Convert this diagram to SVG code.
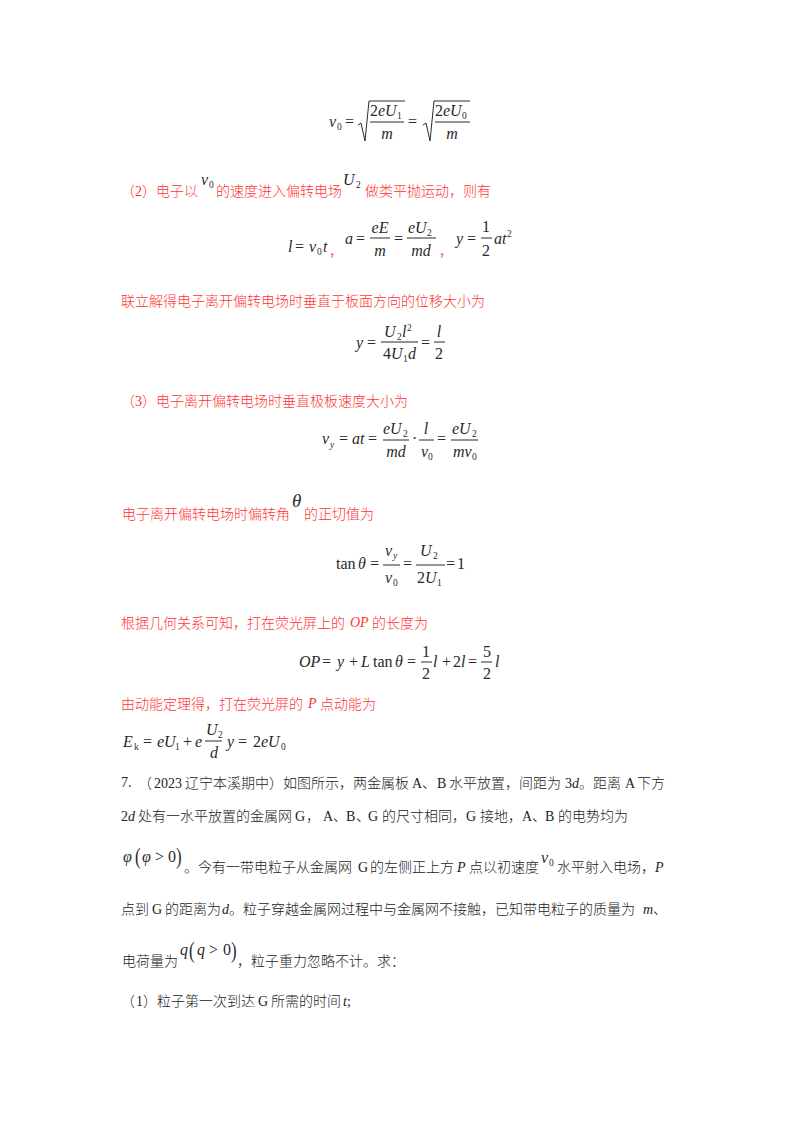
<svg xmlns="http://www.w3.org/2000/svg" width="800" height="1132" viewBox="0 0 800 1132">
<style>
text{white-space:pre}
.r{font:300 14px "Noto Sans CJK SC",sans-serif;fill:#f33}
.k{font:300 14px "Noto Sans CJK SC",sans-serif;fill:#222}
.ri{font:italic 14px "Liberation Serif",serif;fill:#f33}
.rn{font:14px "Liberation Serif",serif;fill:#f33}
.ki{font:italic 14px "Liberation Serif",serif;fill:#222}
.kn{font:14px "Liberation Serif",serif;fill:#222}
.i{font:italic 16px "Liberation Serif",serif;fill:#2a2a2a}
.n{font:16px "Liberation Serif",serif;fill:#2a2a2a}
.s{font:9.5px "Liberation Serif",serif;fill:#2a2a2a}
.si{font:italic 9.5px "Liberation Serif",serif;fill:#2a2a2a}
.p{font:24px "Liberation Serif",serif;fill:#2a2a2a}
.l{stroke:#2a2a2a;stroke-width:1;fill:none}
.c{text-anchor:middle}
</style>
<rect width="800" height="1132" fill="#fff"/>
<g id="eq1">
<text x="329" y="127" class="i">v</text><text x="337" y="130" class="s">0</text><text x="345" y="127" class="n">=</text>
<path class="l" d="M358 125l3-2 4 18 4-40h36"/><path class="l" d="M370 122h34"/>
<text x="370" y="116" class="n">2<tspan class="i">eU</tspan></text><text x="397" y="119" class="s">1</text><text x="387" y="139" class="i c">m</text>
<text x="408" y="127" class="n">=</text>
<path class="l" d="M423 125l3-2 4 18 4-40h36"/><path class="l" d="M435 122h35"/>
<text x="435" y="116" class="n">2<tspan class="i">eU</tspan></text><text x="462" y="119" class="s">0</text><text x="452" y="139" class="i c">m</text>
</g>
<g id="line2">
<text y="196" class="r"><tspan x="121">（</tspan><tspan x="135" class="rn">2</tspan><tspan x="142">）电子以</tspan></text>
<text x="201" y="185" class="i">v</text><text x="209" y="188" class="s">0</text>
<text x="216" y="196" class="r">的速度进入偏转电场</text>
<text x="343" y="185" class="i">U</text><text x="356" y="188" class="s">2</text>
<text x="365" y="196" class="r">做类平抛运动，则有</text>
</g>
<g id="eq2">
<text x="288" y="252" class="i">l</text><text x="295" y="252" class="n">=</text><text x="309" y="252" class="i">v</text><text x="317" y="255" class="s">0</text><text x="323" y="252" class="i">t</text>
<text x="329" y="256" class="r">，</text>
<text x="345" y="244" class="i">a</text><text x="356" y="244" class="n">=</text>
<path class="l" d="M370 238h20M407 238h29M481 238h11"/>
<text x="380" y="233" class="i c">eE</text><text x="380" y="256" class="i c">m</text>
<text x="394" y="244" class="n">=</text>
<text x="408" y="233" class="i">eU</text><text x="427" y="236" class="s">2</text><text x="421" y="256" class="i c">md</text>
<text x="439" y="256" class="r">，</text>
<text x="456" y="244" class="i">y</text><text x="467" y="244" class="n">=</text>
<text x="486" y="232" class="n c">1</text><text x="486" y="256" class="n c">2</text>
<text x="494" y="244" class="i">at</text><text x="507" y="237" class="s">2</text>
</g>
<text id="t3" x="121" y="306" class="r">联立解得电子离开偏转电场时垂直于板面方向的位移大小为</text>
<g id="eq3">
<text x="356" y="348" class="i">y</text><text x="367" y="348" class="n">=</text>
<path class="l" d="M381 342h37M434 342h11"/>
<text x="384" y="337" class="i">U</text><text x="397" y="340" class="s">2</text><text x="402" y="337" class="i">l</text><text x="407" y="331" class="s">2</text>
<text x="383" y="359" class="n">4<tspan class="i">U</tspan></text><text x="403" y="362" class="s">1</text><text x="408" y="359" class="i">d</text>
<text x="421" y="348" class="n">=</text>
<text x="439" y="337" class="i c">l</text><text x="439" y="359" class="n c">2</text>
</g>
<text id="t4" y="406" class="r"><tspan x="121">（</tspan><tspan x="135" class="rn">3</tspan><tspan x="142">）电子离开偏转电场时垂直极板速度大小为</tspan></text>
<g id="eq4">
<text x="322" y="444" class="i">v</text><text x="330" y="448" class="si">y</text><text x="339" y="444" class="n">=</text><text x="352" y="444" class="i">at</text><text x="368" y="444" class="n">=</text>
<path class="l" d="M383 440h26M419 440h15M451 440h27"/>
<text x="383" y="434" class="i">eU</text><text x="403" y="437" class="s">2</text><text x="396" y="457" class="i c">md</text>
<text x="412" y="444" class="n">·</text>
<text x="426" y="434" class="i c">l</text><text x="421" y="457" class="i">v</text><text x="428" y="460" class="s">0</text>
<text x="437" y="444" class="n">=</text>
<text x="452" y="434" class="i">eU</text><text x="472" y="437" class="s">2</text><text x="453" y="457" class="i">mv</text><text x="472" y="460" class="s">0</text>
</g>
<g id="line5">
<text x="122" y="519" class="r">电子离开偏转电场时偏转角</text>
<text x="292" y="507" class="i" style="font-size:19px">θ</text>
<text x="304" y="519" class="r">的正切值为</text>
</g>
<g id="eq5">
<text x="336" y="569" class="n">tan</text><text x="358" y="569" class="i">θ</text><text x="370" y="569" class="n">=</text>
<path class="l" d="M383 565h17M416 565h29"/>
<text x="385" y="556" class="i">v</text><text x="393" y="559" class="si">y</text><text x="385" y="583" class="i">v</text><text x="393" y="586" class="s">0</text>
<text x="403" y="569" class="n">=</text>
<text x="420" y="556" class="i">U</text><text x="433" y="559" class="s">2</text><text x="417" y="583" class="n">2<tspan class="i">U</tspan></text><text x="437" y="586" class="s">1</text>
<text x="446" y="569" class="n">=</text><text x="457" y="569" class="n">1</text>
</g>
<g id="line6">
<text x="121" y="628" class="r">根据几何关系可知，打在荧光屏上的</text>
<text x="350" y="627" class="ri">OP</text>
<text x="372" y="628" class="r">的长度为</text>
</g>
<g id="eq6">
<text x="299" y="667" class="i">OP</text><text x="322" y="667" class="n">=</text><text x="337" y="667" class="i">y</text><text x="349" y="667" class="n">+</text><text x="361" y="667" class="i">L</text><text x="373" y="667" class="n">tan</text><text x="395" y="667" class="i">θ</text><text x="407" y="667" class="n">=</text>
<path class="l" d="M421 662h11M481 662h11"/>
<text x="426" y="657" class="n c">1</text><text x="426" y="679" class="n c">2</text>
<text x="433" y="667" class="i">l</text><text x="442" y="667" class="n">+</text><text x="453" y="667" class="n">2<tspan class="i">l</tspan></text><text x="468" y="667" class="n">=</text>
<text x="487" y="657" class="n c">5</text><text x="487" y="679" class="n c">2</text><text x="495" y="667" class="i">l</text>
</g>
<g id="line7">
<text x="121" y="709" class="r">由动能定理得，打在荧光屏的</text>
<text x="308" y="708" class="ri">P</text>
<text x="320" y="709" class="r">点动能为</text>
</g>
<g id="eq7">
<text x="123" y="747" class="i">E</text><text x="134" y="750" class="s">k</text><text x="143" y="747" class="n">=</text><text x="157" y="747" class="i">eU</text><text x="175" y="750" class="s">1</text><text x="183" y="747" class="n">+</text><text x="195" y="747" class="i">e</text>
<path class="l" d="M205 741h17"/>
<text x="206" y="735" class="i">U</text><text x="218" y="738" class="s">2</text><text x="214" y="758" class="i c">d</text>
<text x="227" y="747" class="i">y</text><text x="238" y="747" class="n">=</text><text x="253" y="747" class="n">2<tspan class="i">eU</tspan></text><text x="281" y="750" class="s">0</text>
</g>
<g id="q1">
<text x="121" y="787" class="kn">7.</text>
<text y="788" class="k"><tspan x="138">（</tspan><tspan x="154" class="kn">2023</tspan><tspan x="185">辽宁本溪期中）如图所示，两金属板</tspan><tspan x="412" class="kn">A</tspan><tspan x="422">、</tspan><tspan x="437" class="kn">B</tspan><tspan x="449">水平放置，间距为</tspan><tspan x="565" class="kn">3</tspan><tspan x="572" class="ki">d</tspan><tspan x="579">。距离</tspan><tspan x="625" class="kn">A</tspan><tspan x="637">下方</tspan></text>
</g>
<text id="q2" y="821" class="k"><tspan x="121" class="kn">2</tspan><tspan x="128" class="ki">d</tspan><tspan x="138">处有一水平放置的金属网</tspan><tspan x="295" class="kn">G</tspan><tspan x="306">，</tspan><tspan x="323" class="kn">A</tspan><tspan x="333">、</tspan><tspan x="346" class="kn">B</tspan><tspan x="356">、</tspan><tspan x="368" class="kn">G</tspan><tspan x="382">的尺寸相同，</tspan><tspan x="466" class="kn">G</tspan><tspan x="480">接地，</tspan><tspan x="522" class="kn">A</tspan><tspan x="532">、</tspan><tspan x="545" class="kn">B</tspan><tspan x="558">的电势均为</tspan></text>
<g id="q3">
<text x="123" y="862" class="i">φ</text><text transform="translate(135 864) scale(.7 1)" class="p">(</text><text x="142" y="862" class="i">φ</text><text x="155" y="862" class="n">&gt;</text><text x="168" y="862" class="n">0</text><text transform="translate(176 864) scale(.7 1)" class="p">)</text>
<text y="872" class="k"><tspan x="184">。今有一带电粒子从金属网</tspan><tspan x="358" class="kn">G</tspan><tspan x="370">的左侧正上方</tspan><tspan x="457" class="ki">P</tspan><tspan x="469">点以初速度</tspan></text>
<text x="541" y="863" class="i">v</text><text x="549" y="866" class="s">0</text>
<text y="872" class="k"><tspan x="557">水平射入电场，</tspan><tspan x="655" class="ki">P</tspan></text>
</g>
<text id="q4" y="914" class="k"><tspan x="121">点到</tspan><tspan x="152" class="kn">G</tspan><tspan x="165">的距离为</tspan><tspan x="222" class="ki">d</tspan><tspan x="229">。粒子穿越金属网过程中与金属网不接触，已知带电粒子的质量为</tspan><tspan x="643" class="ki">m</tspan><tspan x="653">、</tspan></text>
<g id="q5">
<text x="122" y="966" class="k">电荷量为</text>
<text x="180" y="955" class="i">q</text><text transform="translate(189 958) scale(.7 1)" class="p">(</text><text x="197" y="955" class="i">q</text><text x="209" y="955" class="n">&gt;</text><text x="223" y="955" class="n">0</text><text transform="translate(231 958) scale(.7 1)" class="p">)</text>
<text x="237" y="966" class="k">，粒子重力忽略不计。求：</text>
</g>
<text id="q6" y="1006" class="k"><tspan x="121">（</tspan><tspan x="136" class="kn">1</tspan><tspan x="143">）粒子第一次到达</tspan><tspan x="258" class="kn">G</tspan><tspan x="271">所需的时间</tspan><tspan x="343" class="ki">t</tspan><tspan x="347" class="kn">;</tspan></text>
</svg>
